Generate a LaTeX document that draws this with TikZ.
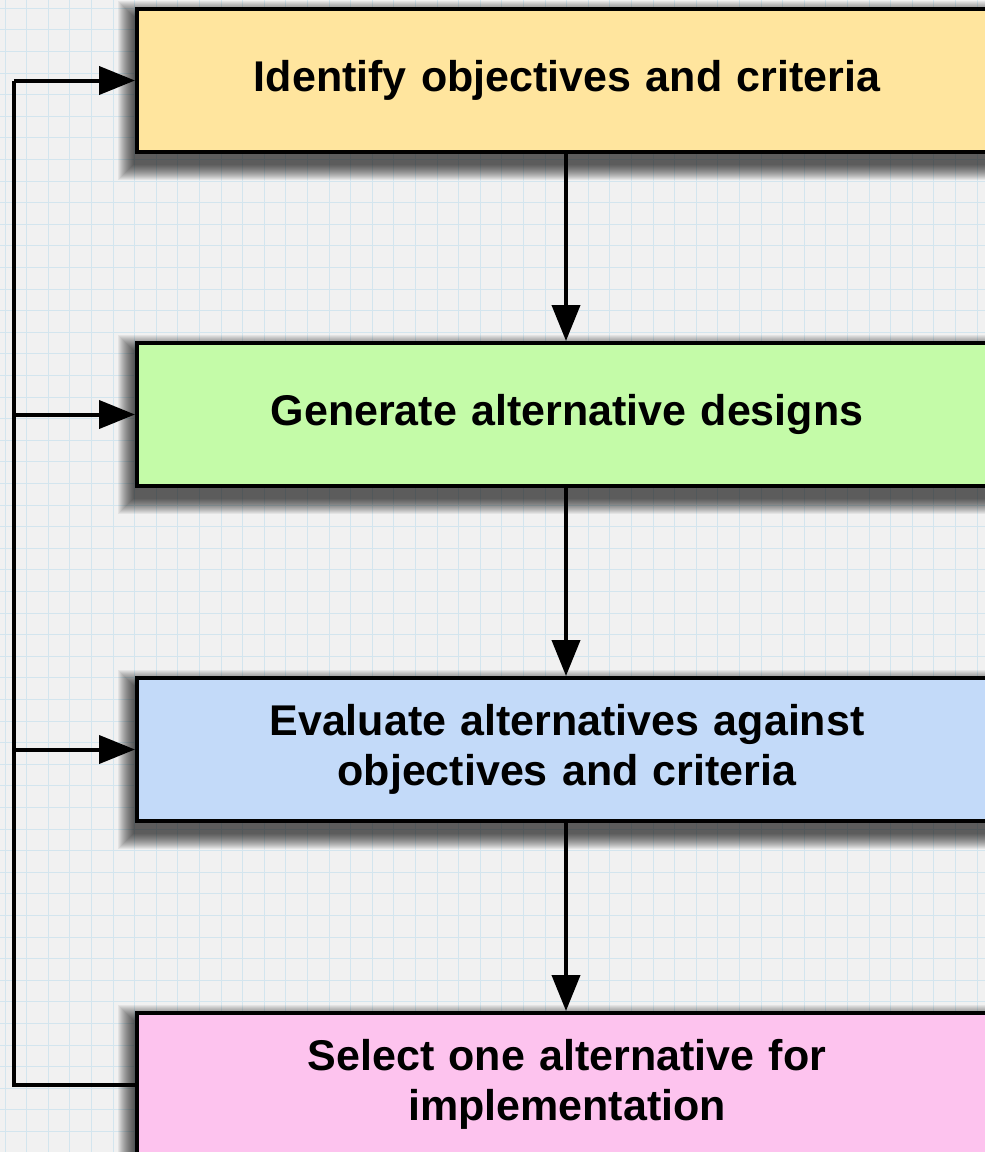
\documentclass[tikz,border=0pt]{standalone}
\usepackage{fontspec}
\setmainfont{Liberation Sans}
\usetikzlibrary{arrows.meta}
\pgfdeclarelayer{shade}
\pgfsetlayers{shade,main}
\definecolor{paper}{HTML}{F1F1F1}
\definecolor{gridblue}{HTML}{D3E5EE}
\definecolor{stepyellow}{HTML}{FFE59E}
\definecolor{stepgreen}{HTML}{C4FBA8}
\definecolor{stepblue}{HTML}{C3DAF9}
\definecolor{steppink}{HTML}{FDC3EE}
\tikzset{
  stepbox/.style={draw=black, line width=4pt, minimum width=860pt, minimum height=143pt,
    anchor=north west, inner sep=0pt, align=center, text width=700pt,
    font=\fontsize{43}{50}\selectfont\bfseries},
  flow/.style={line width=4pt, -{Triangle[length=36pt, width=28pt]}},
  rail/.style={line width=4pt},
  softshade/.style={fill=black, fill opacity=0.055}
}
\begin{document}
\begin{tikzpicture}[x=1pt,y=1pt]
  \useasboundingbox (0,0) rectangle (985,-1152);
  \clip (0,0) rectangle (985,-1152);
  % squared paper
  \begin{pgfonlayer}{shade}
    \fill[paper] (0,0) rectangle (985,-1152);
    \foreach \i in {0,...,45} \draw[gridblue, line width=0.8pt] ({5+21.6*\i},0) -- ({5+21.6*\i},-1152);
    \foreach \i in {0,...,53} \draw[gridblue, line width=0.8pt] (0,{-8.1-21.6*\i}) -- (985,{-8.1-21.6*\i});
  \end{pgfonlayer}
  % process steps
  \node[stepbox, fill=stepyellow] (b1) at (135,-7) {Identify objectives and criteria};
  \node[stepbox, fill=stepgreen]  (b2) at (135,-341) {Generate alternative designs};
  \node[stepbox, fill=stepblue]   (b3) at (135,-676) {Evaluate alternatives against\\objectives and criteria};
  \node[stepbox, fill=steppink]   (b4) at (135,-1011) {Select one alternative for\\implementation};
  % soft drop shadows under the steps
  \begin{pgfonlayer}{shade}
    \foreach \b in {b1,b2,b3,b4}
      \foreach \k in {0,...,15}
        \fill[softshade]
          ([xshift={(\k-17)*1pt}, yshift={(6-\k)*1pt}]\b.north west)
          rectangle ([xshift={(15-\k)*1pt}, yshift={(\k-26)*1pt}]\b.south east);
  \end{pgfonlayer}
  % forward flow
  \draw[flow] (b1.south -| 566,0) -- (b2.north -| 566,0);
  \draw[flow] (b2.south -| 566,0) -- (b3.north -| 566,0);
  \draw[flow] (b3.south -| 566,0) -- (b4.north -| 566,0);
  % feedback rail
  \coordinate (railtop) at (14,0 |- b1.west);
  \draw[rail, line join=miter] (b4.west) -| (railtop);
  \draw[flow] (railtop) -- (b1.west);
  \draw[flow] (railtop |- b2.west) -- (b2.west);
  \draw[flow] (railtop |- b3.west) -- (b3.west);
\end{tikzpicture}
\end{document}
